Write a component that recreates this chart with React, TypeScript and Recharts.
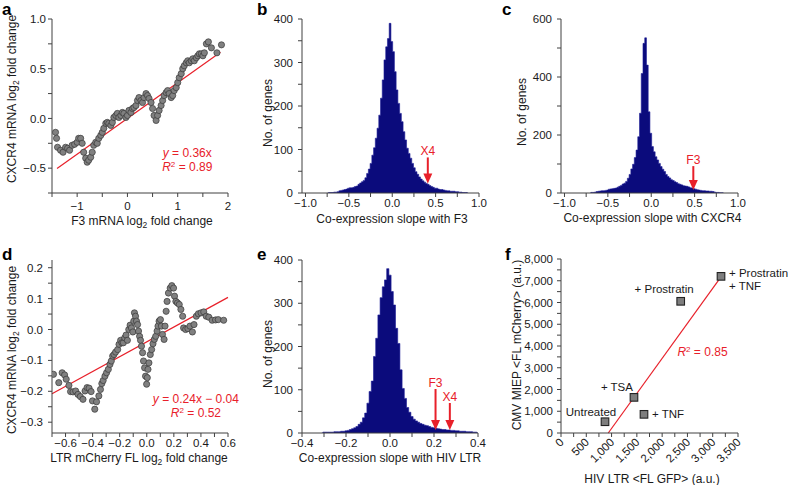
import React from 'react'
import {
  ScatterChart, Scatter, ComposedChart, Area, XAxis, YAxis,
  ReferenceLine, ReferenceDot, Label,
} from 'recharts'

const FONT = '"Liberation Sans", Arial, Helvetica, sans-serif'
const RED = '#e8202a'
const NAVY = '#0b0b7c'
const AXIS = '#404040'
const INK = '#1a1a1a'

// a: CXCR4 vs F3 mRNA log2 fold change
const f3VsCxcr4: [number, number][] = [
  [-1.43, -0.14], [-1.41, -0.2], [-1.39, -0.29], [-1.33, -0.32], [-1.28, -0.34], [-1.23, -0.29],
  [-1.19, -0.3], [-1.15, -0.32], [-1.1, -0.27], [-1.05, -0.26], [-1.0, -0.24], [-0.97, -0.2],
  [-0.93, -0.2], [-0.9, -0.25], [-0.87, -0.34], [-0.83, -0.4], [-0.8, -0.44], [-0.77, -0.42],
  [-0.73, -0.39], [-0.7, -0.34], [-0.67, -0.27], [-0.63, -0.24], [-0.6, -0.25], [-0.57, -0.2],
  [-0.53, -0.17], [-0.5, -0.14], [-0.47, -0.1], [-0.43, -0.05], [-0.4, -0.04], [-0.37, -0.05],
  [-0.33, -0.07], [-0.3, -0.04], [-0.27, 0.01], [-0.23, 0.03], [-0.2, 0.05], [-0.17, 0.01],
  [-0.13, 0.03], [-0.1, 0.06], [-0.07, 0.05], [-0.03, 0.01], [0.0, 0.03], [0.03, 0.08],
  [0.07, 0.06], [0.1, 0.1], [0.13, 0.11], [0.17, 0.13], [0.2, 0.18], [0.23, 0.21],
  [0.27, 0.18], [0.3, 0.16], [0.33, 0.21], [0.37, 0.25], [0.4, 0.23], [0.43, 0.2],
  [0.47, 0.16], [0.5, 0.1], [0.53, 0.03], [0.57, -0.02], [0.6, 0.03], [0.63, 0.08],
  [0.67, 0.13], [0.7, 0.18], [0.73, 0.23], [0.77, 0.26], [0.8, 0.28], [0.83, 0.25],
  [0.87, 0.21], [0.9, 0.23], [0.93, 0.28], [0.97, 0.31], [1.0, 0.36], [1.03, 0.41],
  [1.07, 0.45], [1.1, 0.5], [1.13, 0.53], [1.17, 0.56], [1.2, 0.58], [1.23, 0.56],
  [1.27, 0.58], [1.3, 0.6], [1.33, 0.58], [1.37, 0.61], [1.4, 0.63], [1.43, 0.65],
  [1.47, 0.65], [1.5, 0.63], [1.53, 0.66], [1.57, 0.75], [1.61, 0.77], [1.67, 0.71],
  [1.78, 0.66], [1.87, 0.74],
]
const fitA = [{ x: -1.4, y: -0.504 }, { x: 1.85, y: 0.666 }]

// d: CXCR4 vs LTR mCherry FL log2 fold change
const ltrVsCxcr4: [number, number][] = [
  [-0.689, -0.145], [-0.65, -0.172], [-0.625, -0.14], [-0.607, -0.147], [-0.595, -0.161],
  [-0.575, -0.181], [-0.563, -0.201], [-0.545, -0.202], [-0.525, -0.199], [-0.508, -0.21],
  [-0.491, -0.217], [-0.471, -0.226], [-0.456, -0.199], [-0.441, -0.188], [-0.426, -0.19],
  [-0.411, -0.201], [-0.401, -0.231], [-0.384, -0.258], [-0.371, -0.234], [-0.354, -0.215],
  [-0.342, -0.194], [-0.332, -0.175], [-0.322, -0.165], [-0.309, -0.151], [-0.297, -0.14],
  [-0.284, -0.129], [-0.272, -0.113], [-0.262, -0.102], [-0.252, -0.086], [-0.242, -0.081],
  [-0.23, -0.073], [-0.215, -0.065], [-0.205, -0.048], [-0.193, -0.035], [-0.183, -0.043],
  [-0.173, -0.043], [-0.163, -0.027], [-0.153, -0.018], [-0.143, -0.035], [-0.133, 0.0],
  [-0.123, 0.014], [-0.113, 0.005], [-0.103, -0.008], [-0.096, 0.027], [-0.091, 0.054],
  [-0.083, 0.043], [-0.076, 0.027], [-0.068, 0.016], [-0.061, -0.005], [-0.053, -0.022],
  [-0.046, -0.035], [-0.039, -0.054], [-0.031, -0.075], [-0.024, -0.102], [-0.016, -0.124],
  [-0.009, -0.151], [-0.001, -0.177], [0.004, -0.156], [0.009, -0.129], [0.016, -0.108],
  [0.026, -0.081], [0.036, -0.065], [0.046, -0.046], [0.056, -0.032], [0.066, -0.022],
  [0.076, -0.005], [0.083, 0.011], [0.091, 0.027], [0.101, 0.032], [0.108, 0.011],
  [0.116, -0.016], [0.128, -0.032], [0.135, 0.011], [0.143, 0.059], [0.15, 0.091],
  [0.16, 0.118], [0.173, 0.134], [0.185, 0.142], [0.198, 0.134], [0.205, 0.108],
  [0.215, 0.091], [0.227, 0.086], [0.24, 0.081], [0.252, 0.065], [0.265, 0.043],
  [0.272, 0.005], [0.287, 0.0], [0.304, 0.003], [0.319, 0.011], [0.337, -0.008],
  [0.349, 0.016], [0.366, 0.043], [0.381, 0.051], [0.401, 0.054], [0.421, 0.057],
  [0.439, 0.043], [0.458, 0.04], [0.483, 0.03], [0.508, 0.031], [0.528, 0.032], [0.568, 0.03],
]
const fitD = [{ x: -0.7, y: -0.208 }, { x: 0.6, y: 0.104 }]

// b, c, e: histograms of co-expression slopes (bin centre start, bin width, counts)
const slopeF3 = { start: -0.745, width: 0.02 }
const countsF3 = [
  0, 1, 1, 1, 2, 2, 3, 5, 6, 7, 8, 9, 11, 12, 12, 13, 15, 16, 20, 23, 26, 29, 35, 45, 55, 68, 87,
  104, 126, 149, 179, 218, 260, 306, 336, 355, 390, 348, 325, 279, 237, 206, 183, 164, 141, 122, 103,
  91, 80, 68, 58, 49, 43, 37, 32, 28, 25, 22, 20, 17, 15, 13, 11, 11, 9, 8, 8,
  7, 6, 5, 5, 4, 4, 4, 3, 3, 2, 2, 1, 1, 1, 0,
]
const slopeCxcr4 = { start: -0.705, width: 0.02 }
const countsCxcr4 = [
  0, 2, 2, 3, 5, 6, 7, 8, 8, 9, 10, 13, 14, 15, 16, 17, 20, 23, 26, 31, 34,
  40, 51, 64, 83, 99, 122, 148, 194, 275, 412, 516, 535, 441, 280, 206, 160, 142, 125, 114, 102,
  91, 82, 74, 64, 57, 52, 46, 43, 39, 36, 32, 30, 28, 25, 24, 23, 21, 18, 17, 15,
  13, 11, 10, 9, 8, 8, 7, 7, 6, 6, 5, 3, 2, 2, 1, 1, 0,
]
const slopeLtr = { start: -0.31, width: 0.01 }
const countsLtr = [
  0, 2, 2, 2, 2, 2, 3, 3, 3, 4, 4, 5, 6, 8, 10, 12, 15, 20, 25, 35, 46,
  69, 96, 120, 177, 219, 273, 313, 338, 354, 380, 365, 327, 296, 242, 207, 146, 103, 80, 59, 48,
  38, 32, 28, 25, 22, 20, 18, 17, 15, 13, 12, 11, 10, 9, 8, 8, 7, 7, 6, 6,
  5, 5, 4, 4, 4, 3, 3, 3, 2, 2, 0,
]
const markersB = [{ gene: 'X4', slope: 0.41, n: 22 }]
const markersC = [{ gene: 'F3', slope: 0.485, n: 10 }]
const markersE = [{ gene: 'F3', slope: 0.207, n: 7 }, { gene: 'X4', slope: 0.272, n: 7 }]

// f: CMV MIEP vs HIV LTR under treatments
const treatments = [['Untreated'], ['+ TSA'], ['+ TNF'], ['+ Prostratin'], ['+ Prostratin', '+ TNF']]
const ltrGfp = [870, 1443, 1641, 2367, 3164]
const miepMcherry = [518, 1638, 858, 6055, 7202]
const fitF = [{ x: 935, y: 0 }, { x: 3210, y: 7330 }]

const labelPlacement = [
  { dx: -14, dy: -6, anchor: 'middle' },
  { dx: -1, dy: -6, anchor: 'end' },
  { dx: 8, dy: 4, anchor: 'start' },
  { dx: 13, dy: -8, anchor: 'end' },
  { dx: 8, dy: 1, anchor: 'start' },
]

const toXY = (pts: [number, number][]) => pts.map(([x, y]) => ({ x, y }))
const hist = (b: { start: number; width: number }, counts: number[]) =>
  counts.map((n, i) => ({ x: +(b.start + i * b.width).toFixed(4), n }))
const range = (a: number, b: number, s: number) => {
  const out: number[] = []
  for (let v = a; v <= b + s / 1000; v += s) out.push(+v.toFixed(4))
  return out
}
const isMult = (v: number, m: number) => Math.abs(v / m - Math.round(v / m)) < 1e-6
const fmt = (v: number, d: number) => (v < -1e-9 ? '\u2212' : '') + Math.abs(v).toFixed(d)

const tickStyle = { fill: INK, fontSize: 11.5, fontFamily: FONT }
const textProps = { fontFamily: FONT, fill: INK, fontSize: 12 }

const sub2 = (before: string, after: string) => (
  <>
    {before}
    <tspan dy={3} fontSize={8.5}>2</tspan>
    <tspan dy={-3}>{after}</tspan>
  </>
)
const rSquared = (v: string) => (
  <>
    <tspan fontStyle="italic">R</tspan>
    <tspan dy={-4} fontSize={8}>2</tspan>
    <tspan dy={4}>{` = ${v}`}</tspan>
  </>
)

const xTitle = (x: number, y: number, body: React.ReactNode) => () => (
  <text x={x} y={y} textAnchor="middle" {...textProps}>{body}</text>
)
const yTitle = (x: number, y: number, body: React.ReactNode, letter: string, lx: number, ly: number) => () => (
  <g>
    <text x={x} y={y} transform={`rotate(-90 ${x} ${y})`} textAnchor="middle" {...textProps}>{body}</text>
    <text x={lx} y={ly} fontFamily={FONT} fontWeight="bold" fontSize={17} fill="#000">{letter}</text>
  </g>
)

const dot = (p: any) => (
  <circle cx={p.cx} cy={p.cy} r={3.1} fill="#808080" stroke="#383838" strokeWidth={0.7} />
)

// one <text> holding all lines of a red annotation
const redNote = (lines: React.ReactNode[]) => (p: any) => (
  <text x={p.cx} y={p.cy - 1} textAnchor="middle" fill={RED} fontSize={12} fontFamily={FONT}>
    {lines.map((l, i) => (
      <tspan key={i} x={p.cx} dy={i === 0 ? 0 : 14}>{l}</tspan>
    ))}
  </text>
)

const arrow = (label: string, len: number) => (p: any) => (
  <g>
    <line x1={p.cx} y1={p.cy - len} x2={p.cx} y2={p.cy - 8} stroke={RED} strokeWidth={2} />
    <path d={`M${p.cx - 4.5},${p.cy - 10} L${p.cx + 4.5},${p.cy - 10} L${p.cx},${p.cy} Z`} fill={RED} />
    <text x={p.cx} y={p.cy - len - 2} textAnchor="middle" fill={RED} fontSize={12} fontFamily={FONT}>{label}</text>
  </g>
)

const axisCommon = {
  stroke: AXIS,
  tick: tickStyle,
  tickSize: 4,
  interval: 0 as const,
  allowDataOverflow: true,
}

function PanelA() {
  return (
    <ScatterChart width={255} height={240} margin={{ top: 19, right: 27, bottom: 17, left: 0 }}>
      <XAxis type="number" dataKey="x" domain={[-1.5, 2]} ticks={range(-1.5, 2, 0.5)} height={30}
        tickFormatter={(v: number) => (isMult(v, 1) ? fmt(v, 0) : '')} tickMargin={5} {...axisCommon}>
        <Label content={xTitle(142, 224.5, sub2('F3 mRNA log', ' fold change'))} />
      </XAxis>
      <YAxis type="number" dataKey="y" domain={[-0.75, 1]} ticks={range(-0.75, 1, 0.25)} width={52}
        tickFormatter={(v: number) => (isMult(v, 0.5) ? fmt(v, 1) : '')} tickMargin={2} {...axisCommon}>
        <Label content={yTitle(16, 99, sub2('CXCR4 mRNA log', ' fold change'), 'a', 2, 15)} />
      </YAxis>
      <Scatter data={toXY(f3VsCxcr4)} shape={dot} isAnimationActive={false} />
      <ReferenceLine segment={fitA} stroke={RED} strokeWidth={1.2} />
      <ReferenceDot x={1.19} y={-0.395} r={0} shape={redNote([
        <><tspan fontStyle="italic">y</tspan> = 0.36x</>,
        rSquared('0.89'),
      ])} />
    </ScatterChart>
  )
}

function PanelD() {
  return (
    <ScatterChart width={255} height={245} margin={{ top: 20, right: 27, bottom: 22, left: 0 }}>
      <XAxis type="number" dataKey="x" domain={[-0.7, 0.6]} ticks={range(-0.7, 0.6, 0.1)} height={30}
        tickFormatter={(v: number) => (isMult(v, 0.2) ? fmt(v, 1) : '')} tickMargin={2} {...axisCommon}>
        <Label content={xTitle(139, 222, sub2('LTR mCherry FL log', ' fold change'))} />
      </XAxis>
      <YAxis type="number" dataKey="y" domain={[-0.335, 0.225]} ticks={range(-0.3, 0.2, 0.05)} width={52}
        tickFormatter={(v: number) => (isMult(v, 0.1) ? fmt(v, 1) : '')} tickMargin={5} {...axisCommon}>
        <Label content={yTitle(16, 110, sub2('CXCR4 mRNA log', ' fold change'), 'd', 2, 20)} />
      </YAxis>
      <Scatter data={toXY(ltrVsCxcr4)} shape={dot} isAnimationActive={false} />
      <ReferenceLine segment={fitD} stroke={RED} strokeWidth={1.2} />
      <ReferenceDot x={0.363} y={-0.242} r={0} shape={redNote([
        <><tspan fontStyle="italic">y</tspan> = 0.24x {'\u2212'} 0.04</>,
        rSquared('0.52'),
      ])} />
    </ScatterChart>
  )
}

function Histogram(props: {
  data: { x: number; n: number }[]
  markers: { gene: string; slope: number; n: number }[]
  arrowLen: number[]
  xDomain: [number, number]
  xTicks: number[]
  xMajor: number
  xMargin: number
  yMax: number
  yStep: number
  yMajor: number
  width: number
  height: number
  margin: { top: number; right: number; bottom: number; left: number }
  yWidth: number
  xt: [number, number, string]
  yt: [number, number]
  letter: [string, number, number]
}) {
  const p = props
  return (
    <ComposedChart width={p.width} height={p.height} data={p.data} margin={p.margin}>
      <XAxis type="number" dataKey="x" domain={p.xDomain} ticks={p.xTicks} height={30}
        tickFormatter={(v: number) => (isMult(v, p.xMajor) ? fmt(v, 1) : '')} tickMargin={p.xMargin} {...axisCommon}>
        <Label content={xTitle(p.xt[0], p.xt[1], p.xt[2])} />
      </XAxis>
      <YAxis type="number" domain={[0, p.yMax]} ticks={range(0, p.yMax, p.yStep)} width={p.yWidth}
        tickFormatter={(v: number) => (isMult(v, p.yMajor) ? String(v) : '')} tickMargin={5} {...axisCommon}>
        <Label content={yTitle(p.yt[0], p.yt[1], 'No. of genes', p.letter[0], p.letter[1], p.letter[2])} />
      </YAxis>
      <Area type="step" dataKey="n" stroke="#1c1c96" strokeWidth={0.6} fill={NAVY} fillOpacity={1}
        isAnimationActive={false} dot={false} activeDot={false} />
      {p.markers.map((m, i) => (
        <ReferenceDot key={m.gene} x={m.slope} y={m.n} r={0} shape={arrow(m.gene, p.arrowLen[i])} />
      ))}
    </ComposedChart>
  )
}

function PanelF() {
  const data = ltrGfp.map((x, i) => ({ x, y: miepMcherry[i], label: treatments[i], i }))
  const square = (s: any) => {
    const pl = labelPlacement[s.payload.i]
    return (
      <g>
        <rect x={s.cx - 3.8} y={s.cy - 3.8} width={7.6} height={7.6} fill="#7e7e7e" stroke="#222" strokeWidth={1.1} />
        {s.payload.label.map((t: string, k: number) => (
          <text key={k} x={s.cx + pl.dx} y={s.cy + pl.dy + k * 13} textAnchor={pl.anchor} {...textProps} fontSize={11.5}>{t}</text>
        ))}
      </g>
    )
  }
  const rotTick = (t: any) => {
    const v = t.payload.value
    if (!isMult(v, 500)) return <g />
    return (
      <text x={0} y={0} transform={`translate(${t.x + 3.5},${t.y + 6}) rotate(-45)`} textAnchor="end" {...tickStyle}>
        {v.toLocaleString('en-US')}
      </text>
    )
  }
  return (
    <ScatterChart width={288} height={245} margin={{ top: 19, right: 50, bottom: 22, left: 0 }}>
      <XAxis type="number" dataKey="x" domain={[0, 3500]} ticks={range(0, 3500, 250)} height={30}
        tick={rotTick} tickMargin={0} stroke={AXIS} tickSize={4} interval={0}>
        <Label content={xTitle(152, 242.5, 'HIV LTR <FL GFP> (a.u.)')} />
      </XAxis>
      <YAxis type="number" dataKey="y" domain={[0, 8000]} ticks={range(0, 8000, 500)} width={61}
        tickFormatter={(v: number) => (isMult(v, 1000) ? v.toLocaleString('en-US') : '')} tickMargin={4}
        stroke={AXIS} tick={tickStyle} tickSize={4} interval={0}>
        <Label content={yTitle(21, 105, 'CMV MIEP <FL mCherry> (a.u.)', 'f', 5, 20)} />
      </YAxis>
      <ReferenceLine segment={fitF} stroke={RED} strokeWidth={1.2} />
      <Scatter data={data} shape={square} isAnimationActive={false} />
      <ReferenceDot x={2798} y={3517} r={0} shape={redNote([rSquared('0.85')])} />
    </ScatterChart>
  )
}

export default function App() {
  const box = (left: number, top: number): React.CSSProperties => ({ position: 'absolute', left, top })
  return (
    <div style={{ position: 'absolute', left: 0, top: 0, width: 788, height: 485, background: '#fff', overflow: 'hidden' }}>
      <div style={box(0, 0)}><PanelA /></div>
      <div style={box(255, 0)}>
        <Histogram data={hist(slopeF3, countsF3)} markers={markersB} arrowLen={[26]}
          xDomain={[-1.04, 1]} xTicks={range(-1, 1, 0.25)} xMajor={0.5} xMargin={2}
          yMax={400} yStep={50} yMajor={100} width={245} height={240}
          margin={{ top: 19, right: 21, bottom: 17, left: 0 }} yWidth={47}
          xt={[137, 223, 'Co-expression slope with F3']} yt={[16.6, 113]} letter={['b', 2, 15]} />
      </div>
      <div style={box(500, 0)}>
        <Histogram data={hist(slopeCxcr4, countsCxcr4)} markers={markersC} arrowLen={[24]}
          xDomain={[-1.04, 1]} xTicks={range(-1, 1, 0.25)} xMajor={0.5} xMargin={2}
          yMax={600} yStep={100} yMajor={200} width={288} height={240}
          margin={{ top: 19, right: 50, bottom: 17, left: 0 }} yWidth={61}
          xt={[152.5, 222, 'Co-expression slope with CXCR4']} yt={[26, 112]} letter={['c', 2, 15]} />
      </div>
      <div style={box(0, 240)}><PanelD /></div>
      <div style={box(255, 240)}>
        <Histogram data={hist(slopeLtr, countsLtr)} markers={markersE} arrowLen={[41, 27]}
          xDomain={[-0.4, 0.4]} xTicks={range(-0.4, 0.4, 0.1)} xMajor={0.2} xMargin={2}
          yMax={400} yStep={50} yMajor={100} width={245} height={245}
          margin={{ top: 20, right: 22, bottom: 22, left: 0 }} yWidth={47}
          xt={[135, 222, 'Co-expression slope with HIV LTR']} yt={[16.6, 114]} letter={['e', 2, 20]} />
      </div>
      <div style={box(500, 240)}><PanelF /></div>
    </div>
  )
}
